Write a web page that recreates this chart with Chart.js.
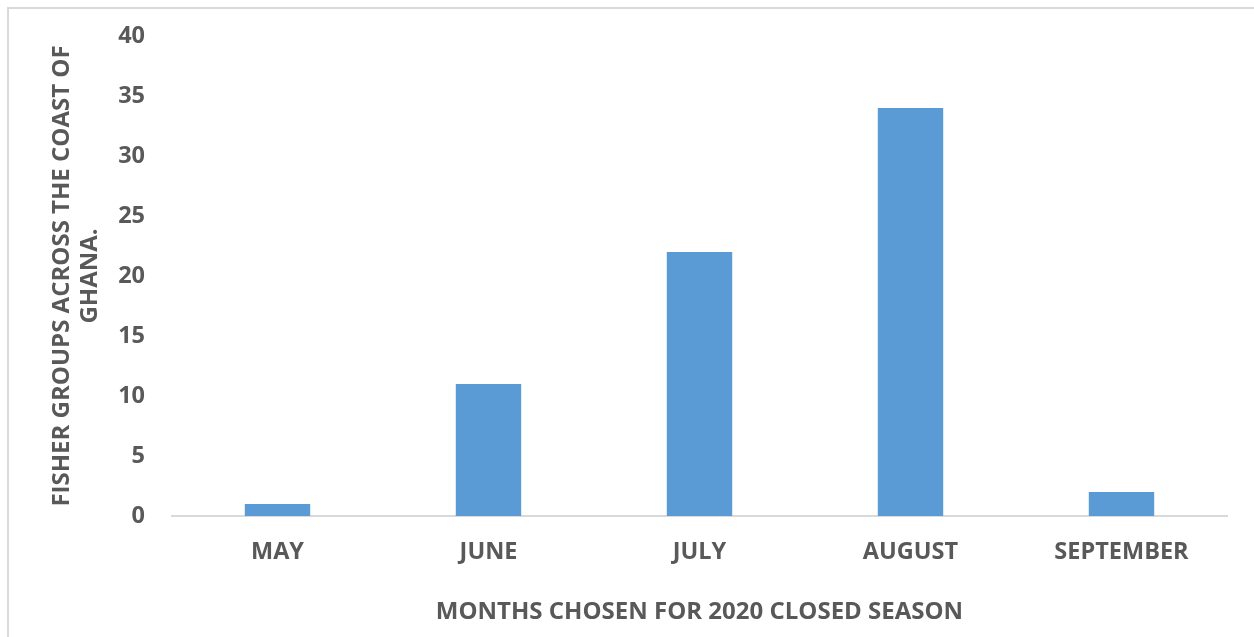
<!DOCTYPE html>
<html>
<head>
<meta charset="utf-8">
<script src="https://cdn.jsdelivr.net/npm/chart.js@4"></script>
<style>
  html, body { margin: 0; padding: 0; background: #fff; }
  #wrap { position: relative; width: 1254px; height: 637px; }
  #frame { position: absolute; left: 7px; top: 7px; right: 0; bottom: 0; border-left: 2px solid #d9d9d9; border-top: 2px solid #d9d9d9; }
</style>
</head>
<body>
<div id="wrap">
  <div id="frame"></div>
  <canvas id="myChart" width="1254" height="637"></canvas>
</div>
<script>
const months = ["MAY", "JUNE", "JULY", "AUGUST", "SEPTEMBER"];
const groups = [1, 11, 22, 34, 2];
const yTicks = [0, 5, 10, 15, 20, 25, 30, 35, 40];

const grey = "#595959";
const tickFont = { family: "'Open Sans', sans-serif", size: 23.5, weight: "bold", lineHeight: "28px" };
const titleFont = { family: "'Open Sans', sans-serif", size: 24, weight: "bold", lineHeight: "28px" };

const ctx = document.getElementById("myChart").getContext("2d");

const chart = new Chart(ctx, {
  type: "bar",
  data: {
    labels: months,
    datasets: [
      {
        data: groups,
        backgroundColor: "#5b9bd5",
        categoryPercentage: 1,
        barPercentage: 0.31,
      },
    ],
  },
  options: {
    responsive: false,
    animation: false,
    layout: { padding: { top: 36, right: 27, left: 0, bottom: 0 } },
    plugins: {
      legend: { display: false },
      tooltip: { enabled: false },
    },
    scales: {
      x: {
        grid: { display: false, drawTicks: false },
        border: { display: true, color: "#d9d9d9", width: 2 },
        ticks: { color: grey, font: tickFont, padding: 22 },
        title: {
          display: true,
          text: "MONTHS CHOSEN FOR 2020 CLOSED SEASON",
          color: grey,
          font: titleFont,
          padding: { top: 0, bottom: 11 },
        },
        afterFit: (scale) => { scale.height = 121; },
      },
      y: {
        min: 0,
        max: 40,
        afterBuildTicks: (scale) => { scale.ticks = yTicks.map((v) => ({ value: v })); },
        grid: { display: false, drawTicks: false },
        border: { display: false },
        ticks: { color: grey, font: tickFont, padding: 27 },
        title: {
          display: true,
          text: ["FISHER GROUPS ACROSS THE COAST OF", "GHANA."],
          color: grey,
          font: titleFont,
          padding: { top: 48, bottom: 0 },
        },
        // fixed axis width, no extra room above/below for labels
        afterFit: (scale) => {
          scale.width = 172;
          scale.paddingTop = 0;
          scale.paddingBottom = 0;
        },
      },
    },
  },
});
</script>
</body>
</html>
